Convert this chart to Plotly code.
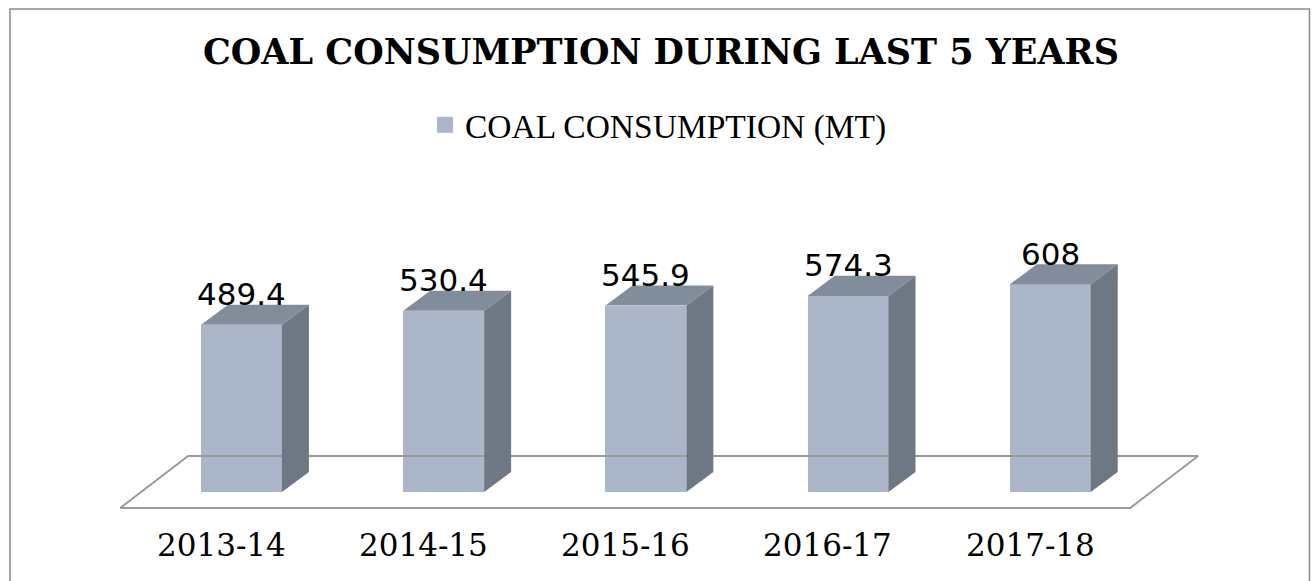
import plotly.graph_objects as go

# ---- data ----
categories = ["2013-14", "2014-15", "2015-16", "2016-17", "2017-18"]
values = [489.4, 530.4, 545.9, 574.3, 608]
value_labels = ["489.4", "530.4", "545.9", "574.3", "608"]
series_name = "COAL CONSUMPTION (MT)"
title_text = "COAL CONSUMPTION DURING LAST 5 YEARS"

# ---- style ----
W, H = 1312, 581
FRONT = "#ABB6C8"
TOP = "#828D9B"
SIDE = "#6E7784"
EDGE = "#9A9A9A"
bar_w = 0.4          # category units
dx, dy = 0.1335, 58.6   # depth offset of the bars (x units, value units)
floor_dx, floor_dy = 0.336, 152.3
floor_front_y = -46.9
floor_left = -0.6
label_y = -155
label_shift = -0.1
val_label_off = 90

n = len(categories)
xs = list(range(n))

fig = go.Figure()

# floor (behind bars)
fx = [floor_left, floor_left + n - 0.005, floor_left + n - 0.005 + floor_dx, floor_left + floor_dx, floor_left]
fy = [floor_front_y, floor_front_y, floor_front_y + floor_dy, floor_front_y + floor_dy, floor_front_y]
fig.add_trace(go.Scatter(x=fx, y=fy, mode="lines", line=dict(color=EDGE, width=2),
                         showlegend=False, hoverinfo="skip"))

# front faces
fig.add_trace(go.Bar(x=xs, y=values, width=bar_w, marker=dict(color=FRONT, line=dict(width=0)),
                     showlegend=False, name=series_name))

# top and side faces
for i, v in zip(xs, values):
    l, r = i - bar_w / 2, i + bar_w / 2
    fig.add_trace(go.Scatter(x=[l, r, r + dx, l + dx, l], y=[v, v, v + dy, v + dy, v],
                             fill="toself", fillcolor=TOP, mode="lines", line=dict(width=0, color=TOP),
                             showlegend=False, hoverinfo="skip"))
    fig.add_trace(go.Scatter(x=[r, r, r + dx, r + dx, r], y=[0, v, v + dy, dy, 0],
                             fill="toself", fillcolor=SIDE, mode="lines", line=dict(width=0, color=SIDE),
                             showlegend=False, hoverinfo="skip"))

# legend entry
fig.add_trace(go.Scatter(x=[None], y=[None], mode="markers", name=series_name,
                         marker=dict(symbol="square", size=16, color=FRONT)))

# value labels
for i, v, t in zip(xs, values, value_labels):
    fig.add_annotation(x=i, y=v + val_label_off, text=t, showarrow=False,
                       xanchor="center", yanchor="middle",
                       font=dict(family="DejaVu Sans", size=31, color="#000000"))

# category labels
for i, c in zip(xs, categories):
    fig.add_annotation(x=i + label_shift, y=label_y, text=c, showarrow=False,
                       xanchor="center", yanchor="middle",
                       font=dict(family="DejaVu Serif", size=31, color="#000000"))

# outer border
fig.add_shape(type="rect", xref="paper", yref="paper",
              x0=10 / W, x1=1309.5 / W, y0=-0.05, y1=1 - 9 / H,
              line=dict(color="#8C8C8C", width=1.5), fillcolor="rgba(0,0,0,0)")

px_per_unit = 0.3415
zero_px = 492
x0_px = 241.5
cat_px = 202.2

fig.update_layout(
    width=W, height=H,
    margin=dict(l=0, r=0, t=0, b=0),
    paper_bgcolor="white", plot_bgcolor="white",
    title=dict(text=title_text, x=661 / W, xanchor="center", y=1 - 52 / H, yanchor="middle",
               font=dict(family="DejaVu Serif", size=35, color="#000000", weight="bold")),
    legend=dict(orientation="h", x=425 / W, xanchor="left", y=1 - 125 / H, yanchor="middle",
                font=dict(family="Liberation Serif", size=33.5, color="#000000"),
                bgcolor="rgba(0,0,0,0)"),
    xaxis=dict(range=[-x0_px / cat_px, (W - x0_px) / cat_px], visible=False, fixedrange=True),
    yaxis=dict(range=[-(H - zero_px) / px_per_unit, zero_px / px_per_unit], visible=False, fixedrange=True),
    bargap=0,
)

fig.write_html("out.html", config={"displayModeBar": False},
               post_script="document.body.style.margin='0';document.body.style.overflow='hidden';")
